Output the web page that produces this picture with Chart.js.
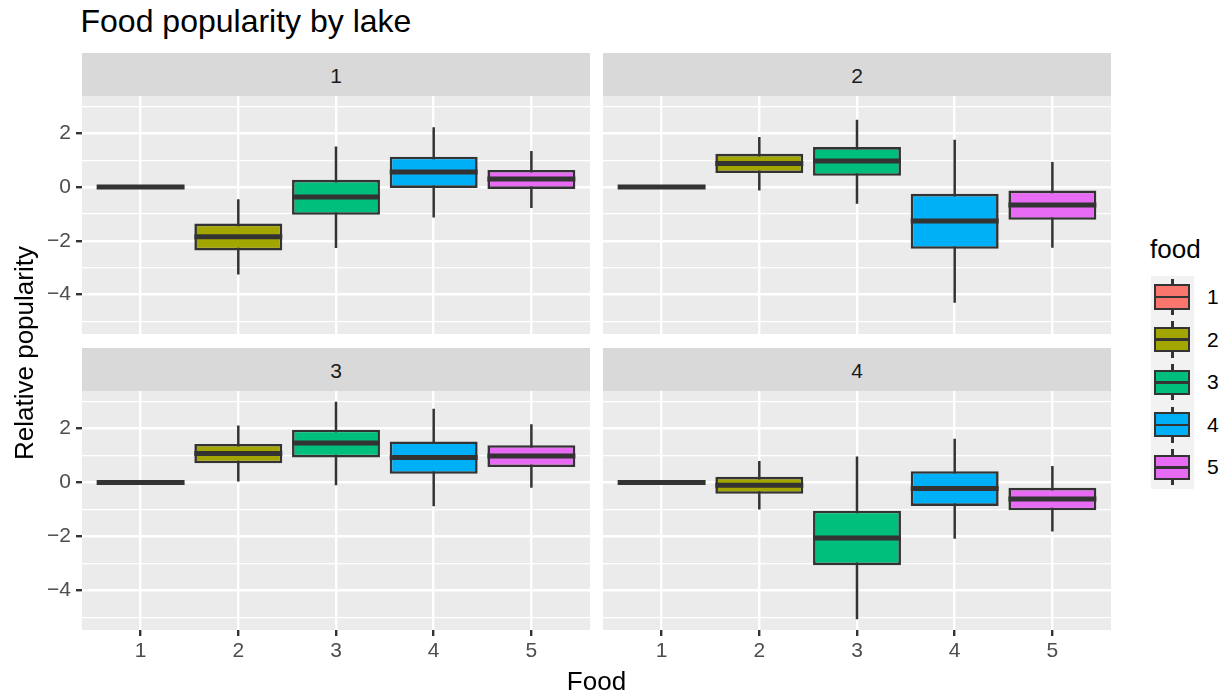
<!DOCTYPE html>
<html>
<head>
<meta charset="utf-8">
<script src="https://cdn.jsdelivr.net/npm/chart.js@4/dist/chart.umd.min.js"></script>
<style>
  body { margin: 0; background: #ffffff; }
  #wrap { position: relative; width: 1226px; height: 697px; overflow: hidden;
          font-family: "Liberation Sans", Arial, sans-serif; background: #ffffff; }
  .abs { position: absolute; white-space: nowrap; }
  canvas { position: absolute; }
  .strip { position: absolute; background: #D9D9D9; color: #1A1A1A; font-size: 21px;
           text-align: center; height: 43px; line-height: 46px; }
</style>
</head>
<body>
<div id="wrap">
  <div class="abs" style="left:80.5px;top:4.5px;font-size:32px;line-height:32px;color:#000;">Food popularity by lake</div>

  <div class="strip" id="strip1" style="left:82px;top:53px;width:508px;"></div>
  <div class="strip" id="strip2" style="left:603px;top:53px;width:508px;"></div>
  <div class="strip" id="strip3" style="left:82px;top:348px;width:508px;"></div>
  <div class="strip" id="strip4" style="left:603px;top:348px;width:508px;"></div>

  <canvas id="p1" width="590" height="238" style="left:0;top:96px;"></canvas>
  <canvas id="p2" width="508" height="238" style="left:603px;top:96px;"></canvas>
  <canvas id="p3" width="590" height="306" style="left:0;top:391px;"></canvas>
  <canvas id="p4" width="508" height="306" style="left:603px;top:391px;"></canvas>

  <div class="abs" style="left:-126px;top:340px;width:300px;height:26px;font-size:26px;line-height:26px;text-align:center;transform:rotate(-90deg);color:#000;">Relative popularity</div>
  <div class="abs" style="left:446.5px;top:668px;width:300px;font-size:26px;line-height:26px;text-align:center;color:#000;">Food</div>

  <div id="legend"></div>
</div>

<script>
// Categories and fill colours for each food
const foodLabels = ['1', '2', '3', '4', '5'];
const lakeLabels = ['1', '2', '3', '4'];
const foodColors = ['#F8766D', '#A3A500', '#00BF7D', '#00B0F6', '#E76BF3'];

// Box summaries per lake, one row per food:
// [lower whisker, lower hinge, median, upper hinge, upper whisker]
const lake1 = [
  [0, 0, 0, 0, 0],
  [-3.26, -2.36, -1.85, -1.36, -0.45],
  [-2.27, -1.03, -0.37, 0.27, 1.51],
  [-1.13, -0.03, 0.56, 1.13, 2.23],
  [-0.78, -0.07, 0.30, 0.64, 1.34]
];
const lake2 = [
  [0, 0, 0, 0, 0],
  [-0.13, 0.52, 0.88, 1.24, 1.87],
  [-0.62, 0.42, 0.97, 1.49, 2.51],
  [-4.31, -2.30, -1.26, -0.25, 1.76],
  [-2.26, -1.22, -0.67, -0.13, 0.93]
];
const lake3 = [
  [0, 0, 0, 0, 0],
  [0.04, 0.71, 1.07, 1.43, 2.11],
  [-0.10, 0.93, 1.46, 1.96, 2.99],
  [-0.88, 0.32, 0.93, 1.52, 2.73],
  [-0.20, 0.57, 0.98, 1.38, 2.16]
];
const lake4 = [
  [0, 0, 0, 0, 0],
  [-1.00, -0.42, -0.10, 0.21, 0.80],
  [-5.07, -3.07, -2.06, -1.05, 0.96],
  [-2.09, -0.87, -0.22, 0.42, 1.62],
  [-1.82, -1.03, -0.61, -0.20, 0.61]
];

// Gridline positions on the value axis (labels on the even ones)
const yGridValues = [-5, -4, -3, -2, -1, 0, 1, 2, 3];

const FONT = '"Liberation Sans", Arial, sans-serif';
const INK = '#333333';

// Shared value range with 5% padding on both ends
const allValues = [lake1, lake2, lake3, lake4].flat(2);
const dataMin = Math.min(...allValues);
const dataMax = Math.max(...allValues);
const pad = (dataMax - dataMin) * 0.05;
const yMin = dataMin - pad;
const yMax = dataMax + pad;

const fmt = v => (v < 0 ? '\u2212' + Math.abs(v) : String(v));
const isMajor = c => c.tick && Math.round(c.tick.value) % 2 === 0;

const panelBg = {
  id: 'panelBg',
  beforeDraw(chart) {
    const { ctx, chartArea: a } = chart;
    ctx.save();
    ctx.fillStyle = '#EBEBEB';
    ctx.fillRect(a.left, a.top, a.right - a.left, a.bottom - a.top);
    ctx.restore();
  }
};

function noOverhang(s) {
  s.paddingTop = 0; s.paddingBottom = 0; s.paddingLeft = 0; s.paddingRight = 0;
}

function drawPanel(canvasId, stats, showY, showX) {
  const half = 0.45; // half box width in category units
  const boxes = stats.map((s, i) => ({ x: i + 1, y: [s[1], s[3]] }));
  const whiskers = [];
  const medians = [];
  stats.forEach((s, i) => {
    whiskers.push({ x: i + 1, y: s[0] }, { x: i + 1, y: s[4] }, { x: i + 1, y: null });
    medians.push({ x: i + 1 - half, y: s[2] }, { x: i + 1 + half, y: s[2] }, { x: i + 1, y: null });
  });

  new Chart(document.getElementById(canvasId), {
    type: 'bar',
    data: {
      datasets: [
        { type: 'line', data: medians, borderColor: INK, borderWidth: 5, pointRadius: 0,
          spanGaps: false, fill: false, tension: 0, borderCapStyle: 'butt', order: 0 },
        { type: 'bar', data: boxes, backgroundColor: foodColors, borderColor: INK, borderWidth: 2.6,
          borderSkipped: false, barPercentage: 0.9, categoryPercentage: 1, order: 1 },
        { type: 'line', data: whiskers, borderColor: INK, borderWidth: 2.5, pointRadius: 0,
          spanGaps: false, fill: false, tension: 0, order: 2 }
      ]
    },
    options: {
      responsive: false,
      animation: false,
      devicePixelRatio: 1,
      layout: { padding: 0 },
      plugins: { legend: { display: false }, tooltip: { enabled: false }, title: { display: false } },
      scales: {
        x: {
          type: 'linear', min: 0.4, max: 5.6, offset: false,
          afterBuildTicks: s => { s.ticks = foodLabels.map((f, i) => ({ value: i + 1 })); },
          afterFit: s => { s.height = showX ? 67 : 0; noOverhang(s); },
          border: { display: false },
          grid: { color: '#FFFFFF', lineWidth: 2.4, offset: false, drawTicks: showX,
                  tickLength: 6, tickColor: INK, tickWidth: 2.4 },
          ticks: { display: showX, padding: 3, color: '#4D4D4D', maxRotation: 0, autoSkip: false,
                   font: { family: FONT, size: 21 },
                   callback: v => foodLabels[Math.round(v) - 1] }
        },
        y: {
          type: 'linear', min: yMin, max: yMax,
          afterBuildTicks: s => { s.ticks = yGridValues.map(v => ({ value: v })); },
          afterFit: s => { s.width = showY ? 82 : 0; noOverhang(s); },
          border: { display: false },
          grid: { color: '#FFFFFF', lineWidth: c => (isMajor(c) ? 2.4 : 1.2), drawTicks: showY,
                  tickLength: 6, tickColor: c => (isMajor(c) ? INK : 'rgba(0,0,0,0)'),
                  tickWidth: c => (isMajor(c) ? 2.4 : 0) },
          ticks: { display: showY, padding: 5, color: '#4D4D4D', autoSkip: false,
                   font: { family: FONT, size: 21 },
                   callback: v => (Math.round(v) % 2 === 0 ? fmt(v) : '') }
        }
      }
    },
    plugins: [panelBg]
  });
}

lakeLabels.forEach((l, i) => { document.getElementById('strip' + (i + 1)).textContent = l; });

drawPanel('p1', lake1, true, false);
drawPanel('p2', lake2, false, false);
drawPanel('p3', lake3, true, true);
drawPanel('p4', lake4, false, true);

// Legend: title, key glyphs and labels
(function buildLegend() {
  const legend = document.getElementById('legend');
  const rowH = 42.6, top0 = 276, keyLeft = 1151;
  let html = '<div class="abs" style="left:1150px;top:235.7px;font-size:26px;line-height:26px;color:#000;">food</div>';
  html += `<div class="abs" style="left:${keyLeft}px;top:${top0}px;width:43px;height:${rowH * foodLabels.length}px;background:#F2F2F2;"></div>`;
  foodLabels.forEach((f, i) => {
    const t = top0 + i * rowH;
    html += `<div class="abs" style="left:1171.2px;top:${t + 2.7}px;width:2.5px;height:36.3px;background:${INK};"></div>`;
    html += `<div class="abs" style="left:1154.4px;top:${t + 8.4}px;width:35.9px;height:25.2px;box-sizing:border-box;border:2.5px solid ${INK};background:${foodColors[i]};"></div>`;
    html += `<div class="abs" style="left:1155.7px;top:${t + 19.8}px;width:33.3px;height:2.5px;background:${INK};"></div>`;
    html += `<div class="abs" style="left:1207px;top:${t}px;height:${rowH}px;line-height:${rowH}px;font-size:21px;color:#000;">${f}</div>`;
  });
  legend.innerHTML = html;
})();
</script>
</body>
</html>
